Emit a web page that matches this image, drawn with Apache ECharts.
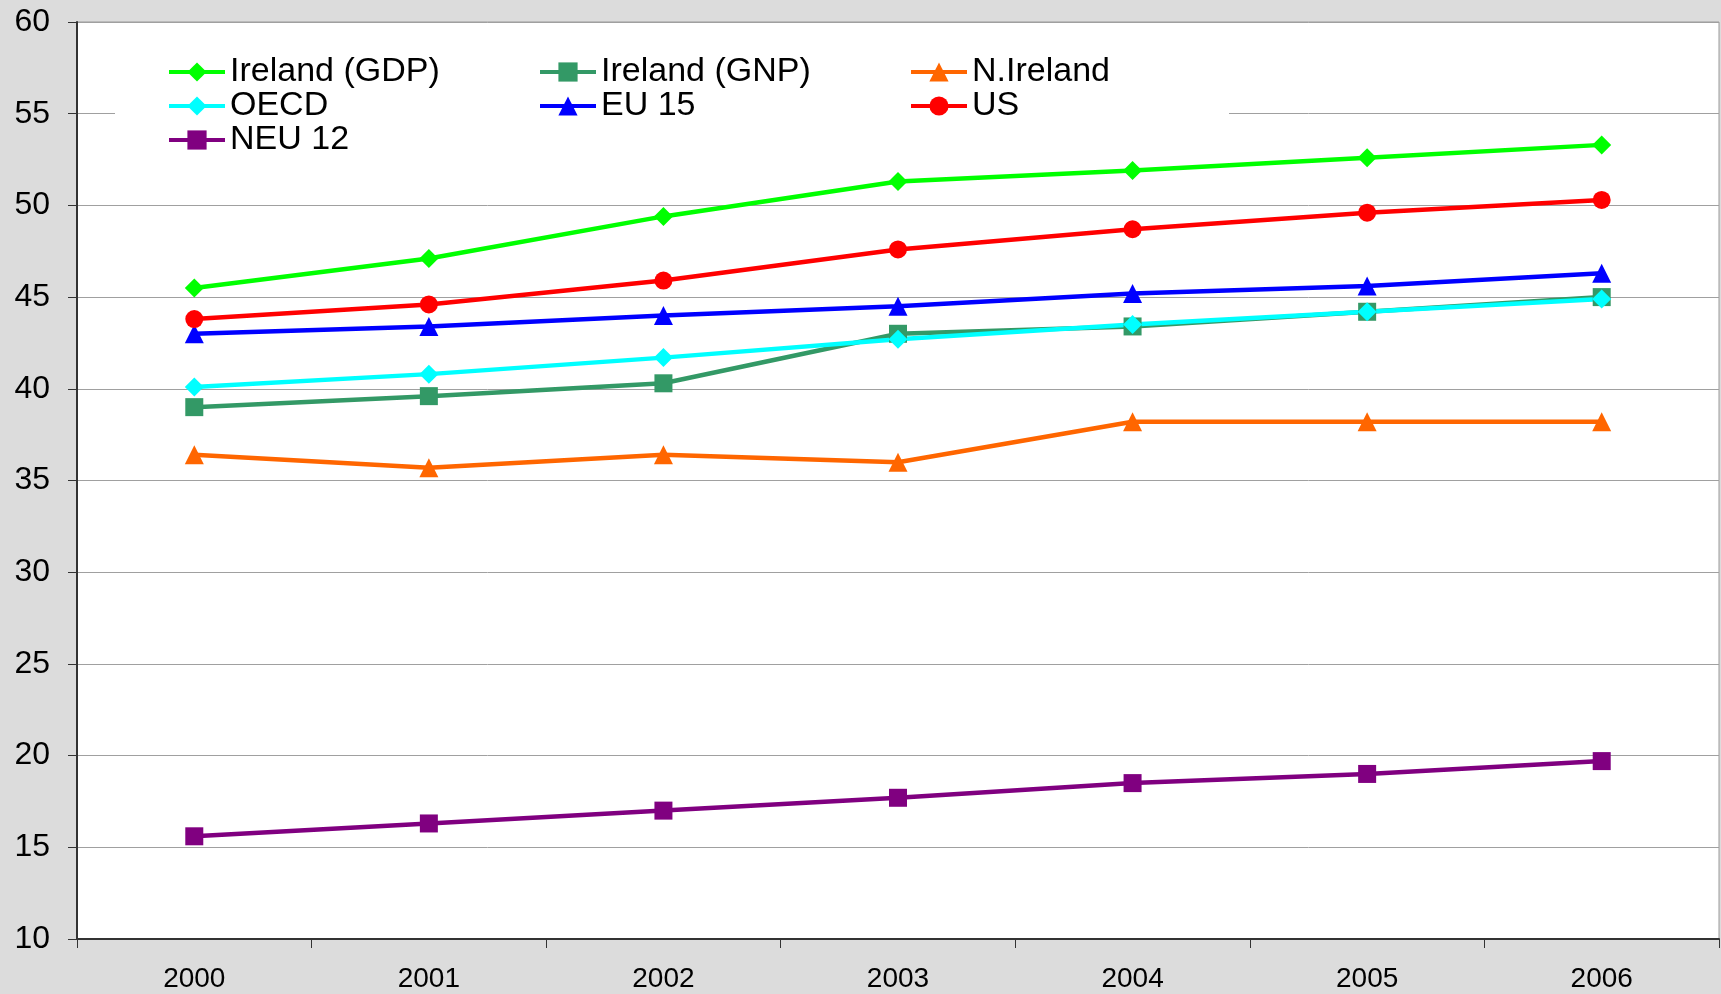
<!DOCTYPE html>
<html>
<head>
<meta charset="utf-8">
<script src="https://cdn.jsdelivr.net/npm/echarts@6/dist/echarts.min.js"></script>
<style>
html,body{margin:0;padding:0;background:#dcdcdc;}
#chart{width:1721px;height:994px;}
</style>
</head>
<body>
<div id="chart"></div>
<script>
const years = ['2000','2001','2002','2003','2004','2005','2006'];
const irelandGDP = [45.5, 47.1, 49.4, 51.3, 51.9, 52.6, 53.3];
const irelandGNP = [39.0, 39.6, 40.3, 43.0, 43.4, 44.2, 45.0];
const nIreland   = [36.4, 35.7, 36.4, 36.0, 38.2, 38.2, 38.2];
const oecd       = [40.1, 40.8, 41.7, 42.7, 43.5, 44.2, 44.9];
const eu15       = [43.0, 43.4, 44.0, 44.5, 45.2, 45.6, 46.3];
const us         = [43.8, 44.6, 45.9, 47.6, 48.7, 49.6, 50.3];
const neu12      = [15.6, 16.3, 17.0, 17.7, 18.5, 19.0, 19.7];

const FONT = '"Liberation Sans", Arial, sans-serif';

function mk(name, data, color, symbol, size) {
  return {
    name: name, type: 'line', data: data,
    symbol: symbol, symbolSize: size,
    itemStyle: {color: color},
    lineStyle: {color: color, width: 4.5},
    emphasis: {disabled: true},
    animation: false
  };
}

const chart = echarts.init(document.getElementById('chart'));
const legendCommon = {
  orient: 'vertical', top: 55, itemGap: 0, itemWidth: 56, itemHeight: 24,
  textStyle: {fontFamily: FONT, fontSize: 34, lineHeight: 34, color: '#000'},
  lineStyle: {width: 4},
  padding: 0, selectedMode: false
};
chart.setOption({
  backgroundColor: '#dcdcdc',
  animation: false,
  graphic: [{
    type: 'rect', left: 115, top: 50, z: 1,
    shape: {width: 1114, height: 108},
    style: {fill: '#ffffff'}
  }],
  legend: [
    Object.assign({}, legendCommon, {left: 167, data: ['Ireland (GDP)', 'OECD', 'NEU 12']}),
    Object.assign({}, legendCommon, {left: 538, data: ['Ireland (GNP)', 'EU 15']}),
    Object.assign({}, legendCommon, {left: 909, data: ['N.Ireland', 'US']})
  ],
  grid: {
    left: 77, right: 2, top: 22, bottom: 55,
    show: true, backgroundColor: '#ffffff', borderColor: '#9a9a9a', borderWidth: 1
  },
  xAxis: {
    type: 'category', data: years, boundaryGap: true,
    axisLine: {lineStyle: {color: '#333', width: 2}},
    axisTick: {show: true, length: 9, lineStyle: {color: '#333'}},
    axisLabel: {fontFamily: FONT, fontSize: 28, color: '#000', margin: 26}
  },
  yAxis: {
    type: 'value', min: 10, max: 60, interval: 5,
    axisLine: {show: true, lineStyle: {color: '#333', width: 2}},
    axisTick: {show: true, length: 9, lineStyle: {color: '#333'}},
    axisLabel: {fontFamily: FONT, fontSize: 32, color: '#000', margin: 27},
    splitLine: {lineStyle: {color: '#a0a0a0', width: 1}}
  },
  series: [
    mk('Ireland (GDP)', irelandGDP, '#00ff00', 'diamond', 19),
    mk('Ireland (GNP)', irelandGNP, '#339966', 'rect', 18),
    mk('N.Ireland', nIreland, '#ff6600', 'triangle', 19),
    mk('OECD', oecd, '#00ffff', 'diamond', 19),
    mk('EU 15', eu15, '#0000ff', 'triangle', 19),
    mk('US', us, '#ff0000', 'circle', 18),
    mk('NEU 12', neu12, '#800080', 'rect', 18)
  ]
});
</script>
</body>
</html>
